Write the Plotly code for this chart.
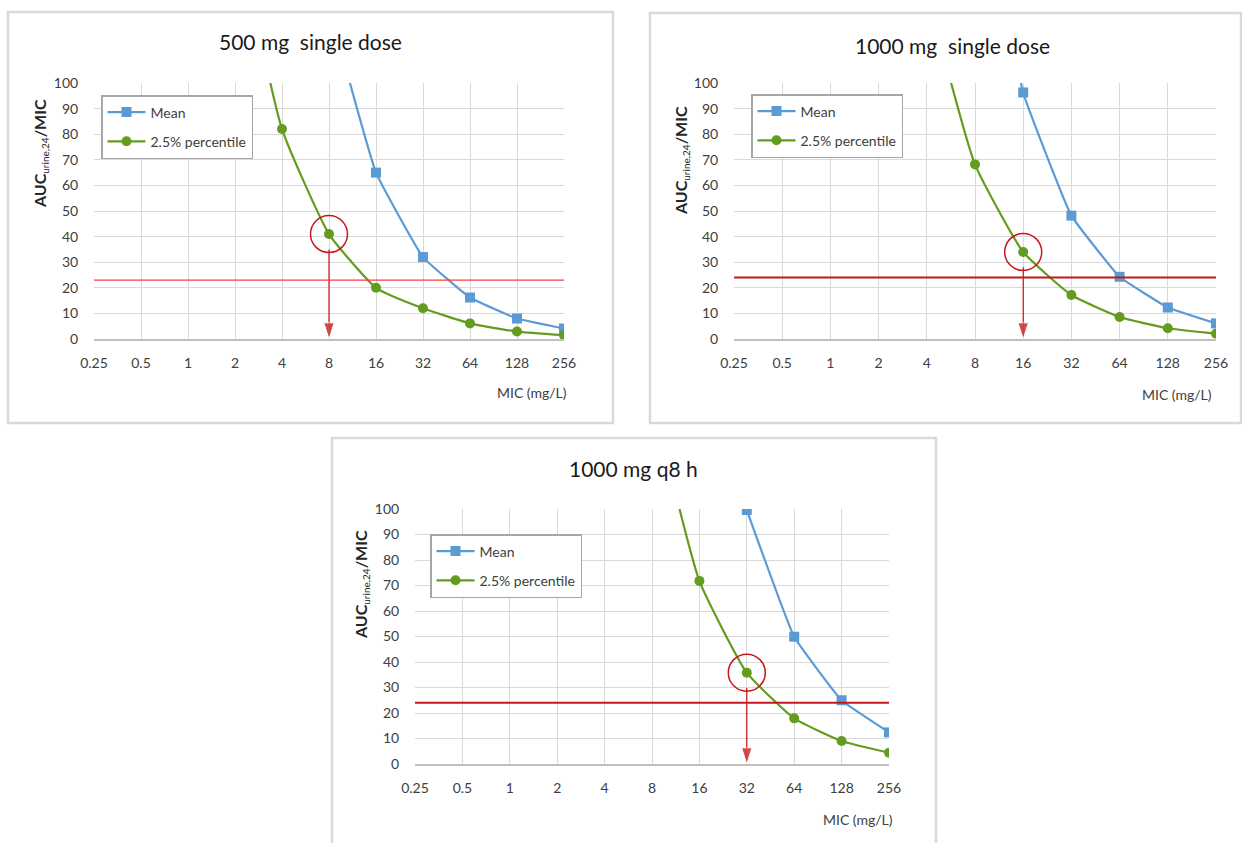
import math
import plotly.graph_objects as go

# ---------------- data ----------------
mic = [0.25, 0.5, 1, 2, 4, 8, 16, 32, 64, 128, 256]
mic_labels = ["0.25", "0.5", "1", "2", "4", "8", "16", "32", "64", "128", "256"]

mean_500 = [None, None, None, None, None, 130, 65, 32, 16.2, 8, 4.1]
p25_500 = [None, None, None, 164, 82, 41, 20, 12, 6.1, 2.9, 1.5]

mean_1000 = [None, None, None, None, None, 193, 96.3, 48.2, 24.3, 12.3, 6.1]
p25_1000 = [None, None, None, None, 136, 68.2, 34, 17.2, 8.6, 4.2, 2.1]

mean_q8 = [None, None, None, None, None, None, None, 99.6, 49.9, 25, 12.4]
p25_q8 = [None, None, None, None, None, 144, 71.8, 35.8, 17.9, 9, 4.4]

titles = ["500 mg\u00a0 single dose", "1000 mg\u00a0 single dose", "1000 mg q8 h"]
target = [23, 24, 24]
marked_mic = [8, 16, 32]
marked_val = [41, 34, 35.8]

series = [(mean_500, p25_500), (mean_1000, p25_1000), (mean_q8, p25_q8)]

# ---------------- layout helpers ----------------
W, H = 1242, 843
def px(x):
    return x / W
def py(y):
    return 1 - y / H

plot_px = [  # left, right, top, bottom in pixels
    (94, 564, 83, 339),
    (734, 1216, 83, 339),
    (415, 889, 509, 764),
]
panel_px = [
    (8, 613, 12, 423),
    (650, 1241, 13, 423),
    (332, 936, 438, 850),
]
title_pos = [(310, 42), (952, 45), (633, 468)]
ytitle_pos = [(41, 154), (682, 161), (361, 585)]
xtitle_pos = [(569, 393), (1214, 395), (895, 819)]
legend_pos = [(101, 95), (751, 94), (430, 534)]

BLUE = "#5B9BD5"
GREEN = "#639C1E"
RED = "#C8161D"
FONT = "Lato, Open Sans, sans-serif"

fig = go.Figure()
legend_names = ["legend", "legend2", "legend3"]

for i, (mean_vals, p25_vals) in enumerate(series):
    xa = "x" if i == 0 else f"x{i+1}"
    ya = "y" if i == 0 else f"y{i+1}"
    fig.add_trace(go.Scatter(
        x=mic, y=mean_vals, mode="lines+markers", name="Mean",
        line=dict(color=BLUE, width=2.2, shape="spline", smoothing=0.3),
        marker=dict(symbol="square", size=10, color=BLUE),
        xaxis=xa, yaxis=ya, legend=legend_names[i], legendgroup=f"m{i}",
    ))
    fig.add_trace(go.Scatter(
        x=mic, y=p25_vals, mode="lines+markers", name="2.5% percentile",
        line=dict(color=GREEN, width=2.2, shape="spline", smoothing=0.45),
        marker=dict(symbol="circle", size=10, color=GREEN),
        xaxis=xa, yaxis=ya, legend=legend_names[i], legendgroup=f"p{i}",
    ))
    # arrow from the circled point down to the MIC axis
    fig.add_trace(go.Scatter(
        x=[marked_mic[i], marked_mic[i]], y=[marked_val[i] - 6, 0],
        mode="lines+markers",
        line=dict(color="#C00000", width=1.1),
        marker=dict(symbol=["line-ns", "arrow"], size=[0, 17],
                    color="#C00000", angleref="previous"),
        xaxis=xa, yaxis=ya, showlegend=False, hoverinfo="skip",
        cliponaxis=False,
    ))
    # circle highlighting the breakpoint
    fig.add_trace(go.Scatter(
        x=[marked_mic[i]], y=[marked_val[i]], mode="markers",
        marker=dict(symbol="circle-open", size=37, color=RED,
                    line=dict(color=RED, width=1.5)),
        xaxis=xa, yaxis=ya, showlegend=False, hoverinfo="skip",
    ))

layout = dict(
    width=W, height=H,
    margin=dict(l=0, r=0, t=0, b=0, autoexpand=False),
    paper_bgcolor="white", plot_bgcolor="white",
    font=dict(family=FONT, size=14, color="#404040"),
    showlegend=True,
)

axis_common_x = dict(
    type="log",
    range=[math.log10(mic[0]), math.log10(mic[-1])],
    tickvals=mic, ticktext=mic_labels,
    showgrid=True, gridcolor="#D9D9D9", gridwidth=1.3,
    showline=True, linecolor="#BFBFBF", linewidth=1.5,
    ticks="outside", ticklen=10, tickcolor="rgba(0,0,0,0)",
    tickfont=dict(size=14, color="#404040"),
    zeroline=False, fixedrange=True,
)
axis_common_y = dict(
    range=[0, 100], tick0=0, dtick=10,
    showgrid=True, gridcolor="#D9D9D9", gridwidth=1.3,
    showline=False,
    ticks="outside", ticklen=12, tickcolor="rgba(0,0,0,0)",
    tickfont=dict(size=14, color="#404040"),
    zeroline=False, fixedrange=True,
)

shapes = []
annotations = []
for i in range(3):
    l, r, t, b = plot_px[i]
    xk = "xaxis" if i == 0 else f"xaxis{i+1}"
    yk = "yaxis" if i == 0 else f"yaxis{i+1}"
    xa = "x" if i == 0 else f"x{i+1}"
    ya = "y" if i == 0 else f"y{i+1}"
    layout[xk] = dict(axis_common_x, domain=[px(l), px(r)], anchor=ya)
    layout[yk] = dict(axis_common_y, domain=[py(b), py(t)], anchor=xa)

    # panel frame
    pl, pr, pt, pb = panel_px[i]
    shapes.append(dict(type="rect", xref="paper", yref="paper",
                       x0=px(pl), x1=px(pr), y0=py(pb), y1=py(pt),
                       line=dict(color="#D9D9D9", width=2.5), layer="below"))
    # target line
    if i == 0:
        tline = dict(color="#FF3B3B", width=1.2)
    else:
        tline = dict(color=RED, width=2)
    shapes.append(dict(type="line", xref=f"{xa} domain", yref=ya,
                       x0=0, x1=1, y0=target[i], y1=target[i], line=tline))
    # titles
    tx, ty = title_pos[i]
    annotations.append(dict(xref="paper", yref="paper", x=px(tx), y=py(ty),
                            text=titles[i], showarrow=False,
                            xanchor="center", yanchor="middle",
                            font=dict(size=21, color="#1a1a1a", family=FONT)))
    yx, yy = ytitle_pos[i]
    annotations.append(dict(xref="paper", yref="paper", x=px(yx), y=py(yy),
                            text="<b>AUC</b><sub><span style='font-size:10px'>urine,24</span></sub><b>/MIC</b>",
                            textangle=-90, showarrow=False,
                            xanchor="center", yanchor="middle",
                            font=dict(size=16, color="#262626", family=FONT)))
    mx, my = xtitle_pos[i]
    annotations.append(dict(xref="paper", yref="paper", x=px(mx), y=py(my),
                            text="MIC (mg/L)", showarrow=False,
                            xanchor="right", yanchor="middle",
                            font=dict(size=14, color="#404040", family=FONT)))
    # legend
    lx, ly = legend_pos[i]
    layout[legend_names[i]] = dict(
        x=px(lx), y=py(ly), xanchor="left", yanchor="top",
        bgcolor="white", bordercolor="#A6A6A6", borderwidth=1.5,
        font=dict(size=14, color="#404040", family=FONT),
        tracegroupgap=8, traceorder="grouped", itemwidth=38,
    )

layout["shapes"] = shapes
layout["annotations"] = annotations
fig.update_layout(**layout)

fig.write_html("out.html", post_script="document.body.style.margin='0';")
